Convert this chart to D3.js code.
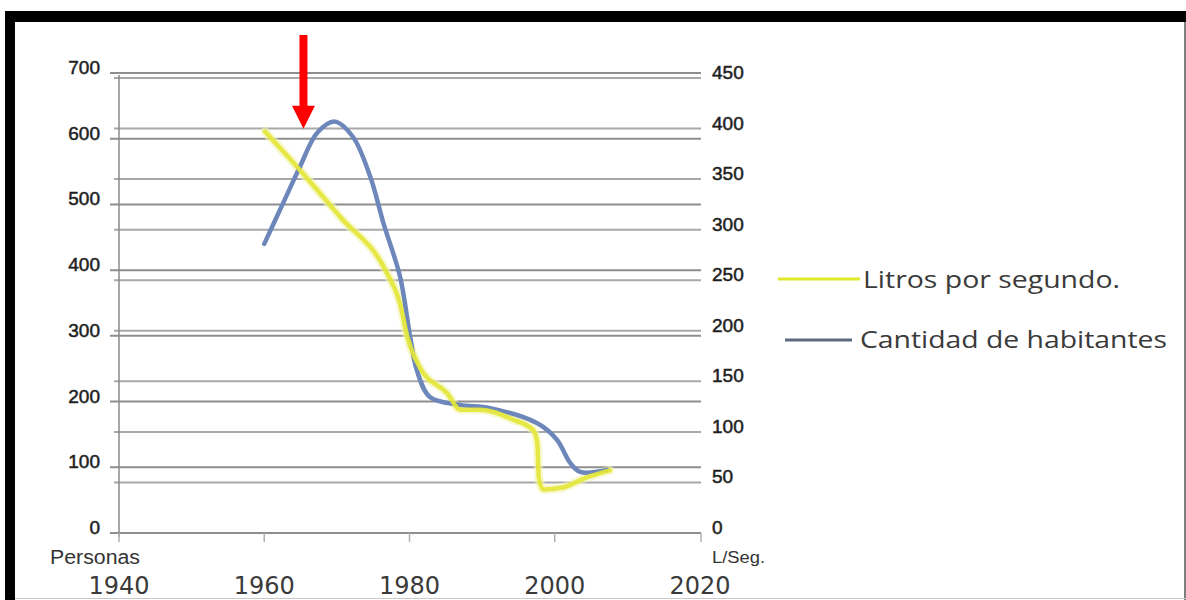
<!DOCTYPE html>
<html>
<head>
<meta charset="utf-8">
<script src="https://cdn.jsdelivr.net/npm/d3@7"></script>
<style>
  body { margin: 0; background: #fff; }
  svg { display: block; }
</style>
</head>
<body>
<div id="chart"></div>
<script>
// Cantidad de habitantes (Personas, left axis)
var habYears = [1960, 1962.6, 1964.9, 1967.3, 1969.7, 1972.2, 1974.6, 1976.4, 1978.7, 1980.1,
                1981.0, 1982.8, 1987.0, 1991.1, 1997.6, 2000.3, 2002.1, 2003.5, 2007.2];
var habitantes = [440, 502, 557, 609, 626, 603, 542, 472, 390, 298,
                  248, 207, 195, 190, 167, 142, 107, 93, 96];

// Litros por segundo (L/Seg., right axis)
var litYears = [1960.1, 1964.9, 1970.4, 1976.9, 1978.7, 1979.7, 1981.4, 1985.2, 1987.0,
                1989.7, 1994.3, 1997.0, 1997.6, 1997.8, 1998.4, 2001.1, 2004.4, 2007.6];
var litros = [397, 359, 313, 257, 227, 194, 164, 138, 122,
              122, 112, 102, 89, 55, 43, 45, 55, 62];

var personasTicks = [0, 100, 200, 300, 400, 500, 600, 700];
var lsegTicks = [0, 50, 100, 150, 200, 250, 300, 350, 400, 450];
var yearTicks = [1940, 1960, 1980, 2000, 2020];

var legendLabels = ['Litros por segundo.', 'Cantidad de habitantes'];
var arrowYear = 1965.4, arrowValue = 615;

var W = 1186, H = 600;

var svg = d3.select('#chart').append('svg')
    .attr('width', W)
    .attr('height', H);

svg.append('rect').attr('width', W).attr('height', H).style('fill', '#fff');

// scales
var x = d3.scaleLinear().domain([1940, 2020]).range([119, 700]);
var yL = d3.scaleLinear().domain([0, 700]).range([533, 73]);
var yR = d3.scaleLinear().domain([0, 450]).range([533, 78]);

var gridLeft = 110, gridRight = 701;

// right axis gridlines
svg.append('g').selectAll('line')
    .data(lsegTicks.slice(1))
  .enter().append('line')
    .attr('x1', gridLeft + 4)
    .attr('x2', gridRight)
    .attr('y1', function(d) { return yR(d); })
    .attr('y2', function(d) { return yR(d); })
    .style('stroke', '#a8a8a8')
    .style('stroke-width', '2px');

// left axis gridlines
svg.append('g').selectAll('line')
    .data(personasTicks)
  .enter().append('line')
    .attr('x1', gridLeft)
    .attr('x2', gridRight)
    .attr('y1', function(d) { return yL(d); })
    .attr('y2', function(d) { return yL(d); })
    .style('stroke', '#8e8e8e')
    .style('stroke-width', '2px');

// left vertical axis
svg.append('line')
    .attr('x1', x(1940)).attr('x2', x(1940))
    .attr('y1', yL(700) + 2).attr('y2', yL(0) + 4)
    .style('stroke', '#8a8a8a')
    .style('stroke-width', '1.5px');

// x ticks
svg.append('g').selectAll('line')
    .data(yearTicks)
  .enter().append('line')
    .attr('x1', function(d) { return x(d) + (d === 2020 ? 1 : 0); })
    .attr('x2', function(d) { return x(d) + (d === 2020 ? 1 : 0); })
    .attr('y1', yL(0))
    .attr('y2', yL(0) + 9)
    .style('stroke', '#b0b0b0')
    .style('stroke-width', '1.5px');

// left tick labels
svg.append('g').selectAll('text')
    .data(personasTicks)
  .enter().append('text')
    .attr('x', 100)
    .attr('y', function(d) { return yL(d) + 1; })
    .attr('text-anchor', 'end')
    .style('font-family', 'Liberation Sans, Arial, sans-serif')
    .style('font-size', '19px')
    .style('fill', '#1e1e1e')
    .style('stroke', '#1e1e1e')
    .style('stroke-width', '0.5px')
    .text(function(d) { return d; });

// right tick labels
svg.append('g').selectAll('text')
    .data(lsegTicks)
  .enter().append('text')
    .attr('x', 712)
    .attr('y', function(d) { return yR(d) + 1; })
    .attr('text-anchor', 'start')
    .style('font-family', 'Liberation Sans, Arial, sans-serif')
    .style('font-size', '19px')
    .style('fill', '#1e1e1e')
    .style('stroke', '#1e1e1e')
    .style('stroke-width', '0.5px')
    .text(function(d) { return d; });

// axis units
svg.append('text')
    .attr('x', 50).attr('y', 564)
    .style('font-family', 'Liberation Sans, Arial, sans-serif')
    .style('font-size', '20px')
    .style('fill', '#333')
    .attr('textLength', 90)
    .attr('lengthAdjust', 'spacingAndGlyphs')
    .text('Personas');

svg.append('text')
    .attr('x', 712).attr('y', 563)
    .style('font-family', 'Liberation Sans, Arial, sans-serif')
    .style('font-size', '16px')
    .style('fill', '#333')
    .attr('textLength', 53)
    .attr('lengthAdjust', 'spacingAndGlyphs')
    .text('L/Seg.');

// year labels
svg.append('g').selectAll('text')
    .data(yearTicks)
  .enter().append('text')
    .attr('x', function(d) { return x(d); })
    .attr('y', 594)
    .attr('text-anchor', 'middle')
    .style('font-family', 'DejaVu Sans, sans-serif')
    .style('font-size', '24px')
    .style('fill', '#3a3a3a')
    .text(function(d) { return d; });

// lines
var habLine = d3.line()
    .x(function(d, i) { return x(habYears[i]); })
    .y(function(d) { return yL(d); })
    .curve(d3.curveCatmullRom.alpha(0.5));

var litLine = d3.line()
    .x(function(d, i) { return x(litYears[i]); })
    .y(function(d) { return yR(d); })
    .curve(d3.curveMonotoneX);

svg.append('path')
    .data([litros])
    .attr('d', litLine)
    .style('fill', 'none')
    .style('stroke', '#f3f5b0')
    .style('stroke-width', '9px')
    .style('stroke-linecap', 'round')
    .style('opacity', 0.6);

svg.append('path')
    .data([habitantes])
    .attr('d', habLine)
    .style('fill', 'none')
    .style('stroke', '#6d87ba')
    .style('stroke-width', '4.5px')
    .style('stroke-linecap', 'round')
    .style('stroke-linejoin', 'round');

svg.append('path')
    .data([litros])
    .attr('d', litLine)
    .style('fill', 'none')
    .style('stroke', '#e4e63a')
    .style('stroke-width', '4.5px')
    .style('stroke-linecap', 'round')
    .style('stroke-linejoin', 'round')
    .style('opacity', 0.92);

// legend
var legend = svg.append('g');
legend.append('line')
    .attr('x1', 778).attr('x2', 860).attr('y1', 279).attr('y2', 279)
    .style('stroke', '#dfe82a').style('stroke-width', '3px');
legend.append('line')
    .attr('x1', 785).attr('x2', 852).attr('y1', 340).attr('y2', 340)
    .style('stroke', '#5c6b82').style('stroke-width', '3px');
legend.append('text')
    .attr('x', 863).attr('y', 288)
    .attr('textLength', 257)
    .attr('lengthAdjust', 'spacingAndGlyphs')
    .style('font-family', 'Open Sans, sans-serif')
    .style('font-size', '23px')
    .style('fill', '#3a3a3a')
    .text(legendLabels[0]);
legend.append('text')
    .attr('x', 860).attr('y', 348)
    .attr('textLength', 307)
    .attr('lengthAdjust', 'spacingAndGlyphs')
    .style('font-family', 'Open Sans, sans-serif')
    .style('font-size', '23px')
    .style('fill', '#3a3a3a')
    .text(legendLabels[1]);

// red arrow
var ax = x(arrowYear), tip = yL(arrowValue);
svg.append('path')
    .attr('d', 'M' + (ax - 4) + ',35 L' + (ax + 4) + ',35 L' + (ax + 4) + ',' + (tip - 23) +
               ' L' + (ax + 11.5) + ',' + (tip - 23) + ' L' + ax + ',' + tip +
               ' L' + (ax - 11.5) + ',' + (tip - 23) + ' L' + (ax - 4) + ',' + (tip - 23) + 'Z')
    .style('fill', '#ff0000');

// frame
svg.append('rect').attr('x', 5).attr('y', 11).attr('width', W - 5).attr('height', 11).style('fill', '#000');
svg.append('rect').attr('x', 5).attr('y', 11).attr('width', 10).attr('height', H - 11).style('fill', '#000');
svg.append('line').attr('x1', 1185).attr('x2', 1185).attr('y1', 22).attr('y2', H)
    .style('stroke', '#555').style('stroke-width', '1.5px');
svg.append('line').attr('x1', 15).attr('x2', W).attr('y1', 598.5).attr('y2', 598.5)
    .style('stroke', '#c8c8c8').style('stroke-width', '1px');
</script>
</body>
</html>
